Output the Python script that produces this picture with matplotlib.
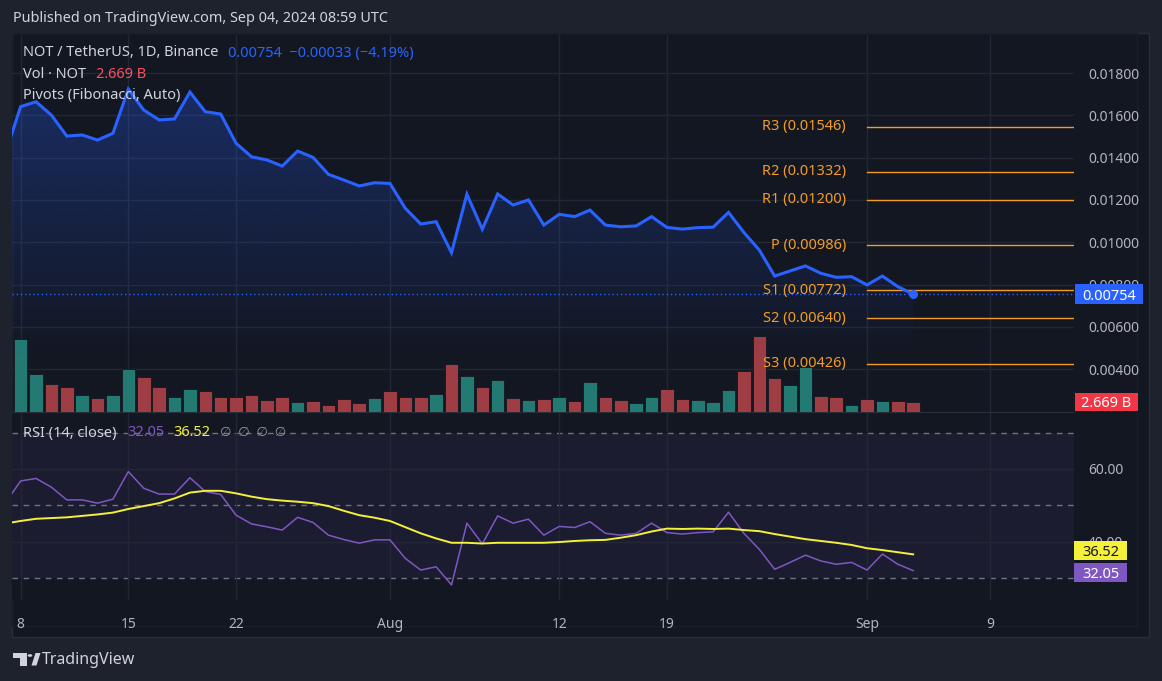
import numpy as np
import pandas as pd
import matplotlib
matplotlib.use('Agg')
import matplotlib.pyplot as plt
import matplotlib.dates as mdates
import matplotlib.transforms as mtransforms
from matplotlib.patches import Rectangle, Polygon, Circle
from matplotlib.colors import to_rgb

plt.rcParams['font.family'] = ['Noto Sans', 'DejaVu Sans']

# daily data, NOT/USDT 1D (Jul 7 .. Sep 4 2024)
dates = pd.date_range('2024-07-07', '2024-09-04', freq='D')

close = [0.01417, 0.01641, 0.01664, 0.01601, 0.01502, 0.01507, 0.01483, 0.01515, 0.01724, 0.01625,
         0.01578, 0.01583, 0.01710, 0.01617, 0.01606, 0.01468, 0.01404, 0.01389, 0.01360, 0.01431,
         0.01401, 0.01321, 0.01294, 0.01266, 0.01281, 0.01278, 0.01160, 0.01086, 0.01097, 0.00950,
         0.01227, 0.01061, 0.01228, 0.01176, 0.01200, 0.01081, 0.01132, 0.01121, 0.01152, 0.01081,
         0.01073, 0.01077, 0.01121, 0.01070, 0.01062, 0.01069, 0.01071, 0.01141, 0.01046, 0.00963,
         0.00840, 0.00864, 0.00888, 0.00853, 0.00834, 0.00837, 0.00798, 0.00840, 0.00790, 0.00754]

# volume in billions
volume = [8.0, 19.5, 10.1, 7.5, 6.75, 4.5, 3.8, 4.5, 11.5, 9.4,
          6.75, 4.1, 6.2, 5.6, 4.1, 4.1, 4.5, 3.2, 4.1, 2.7,
          2.9, 1.9, 3.5, 2.5, 3.8, 5.7, 4.1, 4.1, 4.8, 12.8,
          9.6, 6.75, 8.5, 3.8, 3.2, 3.55, 4.1, 3.0, 8.1, 4.1,
          3.2, 2.5, 4.1, 6.2, 3.55, 3.2, 2.75, 5.9, 11.0, 20.3,
          9.0, 7.2, 12.1, 4.3, 4.1, 1.9, 3.5, 2.9, 2.9, 2.669]

rsi = [50.6, 56.7, 57.4, 55.0, 51.5, 51.5, 50.6, 51.7, 59.3, 54.7,
       53.1, 53.1, 57.6, 53.8, 53.0, 47.3, 44.9, 44.1, 43.2, 46.7,
       45.3, 41.8, 40.6, 39.6, 40.5, 40.5, 35.4, 32.2, 33.1, 28.1,
       45.1, 39.4, 47.1, 45.1, 46.2, 41.8, 44.2, 43.9, 45.5, 42.3,
       41.8, 42.3, 45.1, 42.5, 42.1, 42.5, 42.7, 48.1, 42.3, 37.9,
       32.4, 34.3, 36.3, 34.7, 33.8, 34.3, 32.2, 36.6, 33.8, 32.05]

rsi_ma = [45.0, 45.7, 46.3, 46.5, 46.7, 47.1, 47.5, 48.0, 49.0, 49.8,
          50.6, 51.9, 53.5, 54.0, 54.0, 53.3, 52.4, 51.7, 51.3, 51.0,
          50.6, 49.8, 48.5, 47.3, 46.6, 45.7, 44.0, 42.3, 40.9, 39.7,
          39.7, 39.5, 39.7, 39.7, 39.7, 39.7, 39.9, 40.2, 40.4, 40.5,
          41.1, 41.8, 42.8, 43.6, 43.5, 43.6, 43.5, 43.6, 43.2, 42.9,
          42.1, 41.4, 40.7, 40.2, 39.7, 39.1, 38.2, 37.7, 37.1, 36.52]

pivot_names = ['R3', 'R2', 'R1', 'P', 'S1', 'S2', 'S3']
pivot_values = [0.01546, 0.01332, 0.01200, 0.00986, 0.00772, 0.00640, 0.00426]
pivot_start = pd.Timestamp('2024-09-01')

tick_dates = pd.to_datetime(['2024-07-08', '2024-07-15', '2024-07-22', '2024-08-01',
                             '2024-08-12', '2024-08-19', '2024-09-01', '2024-09-09'])
tick_labels = ['8', '15', '22', 'Aug', '12', '19', 'Sep', '9']
price_ticks = [0.004, 0.006, 0.008, 0.010, 0.012, 0.014, 0.016, 0.018]
rsi_ticks = [40, 60]

W, H = 1162, 681
BG = '#131722'
FRAME = '#1e222d'
GRID = '#232735'
TXT = '#d1d4dc'
AXT = '#b2b5be'
BLUE = '#2962ff'
ORANGE = '#f39c25'
PURPLE = '#7e57c2'
YELLOW = '#f5f03a'


def fr(x0, y0, x1, y1):
    # pixel box (top-left origin) -> figure fraction rect
    return [x0 / W, 1 - y1 / H, (x1 - x0) / W, (y1 - y0) / H]


fig = plt.figure(figsize=(W / 100, H / 100), dpi=100, facecolor=FRAME)

fig.add_artist(Rectangle((12 / W, 1 - 637 / H), 1137 / W, 604 / H, transform=fig.transFigure,
                         facecolor=BG, edgecolor='#2a2e39', lw=1, zorder=-2))
fig.add_artist(Rectangle((12 / W, 1 - 626 / H), 1125 / W, 593 / H, transform=fig.transFigure,
                         facecolor='none', edgecolor='#1a1e29', lw=1, zorder=-1))

xs = mdates.date2num(dates)
x0 = mdates.date2num(pd.Timestamp('2024-07-08')) - 0.56
x1 = mdates.date2num(pd.Timestamp('2024-07-08')) + 68.45
ylo, yhi = 0.001972, 0.019797

# ---- volume (behind price) ----
ax_v = fig.add_axes(fr(12, 35, 1074, 412))
ax_v.set_zorder(1)
ax_v.patch.set_visible(False)
up = [True] + [close[i] >= close[i - 1] for i in range(1, len(close))]
vcol = ['#237a72' if u else '#9e3d44' for u in up]
ax_v.bar(xs, volume, width=0.88, color=vcol, edgecolor=BG, lw=0.6, zorder=2)
ax_v.set_ylim(0, 100.6)
ax_v.set_xlim(x0, x1)
ax_v.set_xticks(mdates.date2num(tick_dates))
ax_v.set_yticks([])
ax_v.tick_params(length=0, labelbottom=False, labelleft=False)
ax_v.grid(axis='x', color=GRID, lw=1, zorder=0)
for s in ax_v.spines.values():
    s.set_visible(False)

# ---- price ----
ax_p = fig.add_axes(fr(12, 35, 1074, 412))
ax_p.set_zorder(2)
ax_p.patch.set_visible(False)
ax_p.set_xlim(x0, x1)
ax_p.set_ylim(ylo, yhi)

# horizontal price grid drawn in the volume axes so it stays behind the bars
tr_grid = mtransforms.blended_transform_factory(ax_v.transAxes, ax_p.transData)
for v in price_ticks:
    ax_v.plot([0, 1], [v, v], color=GRID, lw=1, transform=tr_grid, zorder=0)

verts = [(xs[0], ylo)] + list(zip(xs, close)) + [(xs[-1], ylo)]
clip = Polygon(verts, closed=True, facecolor='none', edgecolor='none', transform=ax_p.transData)
ax_p.add_patch(clip)
grad = np.zeros((256, 1, 4))
grad[..., :3] = to_rgb(BLUE)
grad[..., 3] = np.linspace(0.30, 0.0, 256).reshape(-1, 1)
im = ax_p.imshow(grad, extent=[xs[0], xs[-1], 0.0045, 0.0175], aspect='auto',
                 origin='upper', zorder=1, interpolation='bilinear')
im.set_clip_path(clip)

ax_p.plot(xs, close, color=BLUE, lw=2.2, zorder=4, solid_joinstyle='miter')
ax_p.plot(xs[-1], close[-1], 'o', ms=5.5, color=BLUE, zorder=5)
ax_p.axhline(close[-1], color=BLUE, lw=1, ls=(0, (1, 2)), zorder=3)

ps = mdates.date2num(pivot_start)
for name, v in zip(pivot_names, pivot_values):
    ax_p.plot([ps, x1], [v, v], color=ORANGE, lw=1, zorder=3)
    ax_p.annotate('%s (%.5f)' % (name, v), (ps, v), xytext=(-21, 0), textcoords='offset pixels',
                  ha='right', va='center', color=ORANGE, fontsize=10.5, zorder=6)

ax_p.set_xlim(x0, x1)
ax_p.set_ylim(ylo, yhi)
ax_p.yaxis.tick_right()
ax_p.set_yticks(price_ticks)
ax_p.set_yticklabels(['%.5f' % v for v in price_ticks])
ax_p.set_xticks([])
ax_p.tick_params(axis='y', length=0, pad=10, labelcolor=AXT, labelsize=10)
for s in ax_p.spines.values():
    s.set_visible(False)

# ---- RSI ----
ax_r = fig.add_axes(fr(12, 412, 1074, 600))
ax_r.set_facecolor(BG)
ax_r.axhspan(30, 70, color=PURPLE, alpha=0.09, lw=0, zorder=0)
for v in rsi_ticks:
    ax_r.axhline(v, color=GRID, lw=1, zorder=1)
for v in [70, 50, 30]:
    ax_r.axhline(v, color='#6f7380', lw=1, ls=(0, (4, 4)), zorder=1)
ax_r.plot(xs, rsi, color=PURPLE, lw=1.1, zorder=3)
ax_r.plot(xs, rsi_ma, color=YELLOW, lw=1.4, zorder=4)
ax_r.set_xlim(x0, x1)
ax_r.set_ylim(23.96, 75.68)
ax_r.yaxis.tick_right()
ax_r.set_yticks(rsi_ticks)
ax_r.set_yticklabels(['%.2f' % v for v in rsi_ticks])
ax_r.set_xticks(mdates.date2num(tick_dates))
ax_r.set_xticklabels(tick_labels)
for lab in ax_r.get_xticklabels():
    if lab.get_text() in ('Aug', 'Sep'):
        lab.set_fontweight('bold')
ax_r.grid(axis='x', color=GRID, lw=1, zorder=0)
ax_r.tick_params(axis='y', length=0, pad=10, labelcolor=AXT, labelsize=10)
ax_r.tick_params(axis='x', length=0, pad=12, labelcolor=AXT, labelsize=10)
for s in ax_r.spines.values():
    s.set_visible(False)
ax_r.spines['top'].set_visible(True)
ax_r.spines['top'].set_color('#2a2e39')


# value tags on the right scale: box in pixels, centred on the value
def tag(ax, value, text, fc, tc, px0, px1, h, dy=0, bold=False):
    py = ax.transData.transform((x0, value))[1] + dy
    fig.add_artist(Rectangle((px0 / W, (py - h / 2) / H), (px1 - px0) / W, h / H,
                             transform=fig.transFigure, fc=fc, ec='none', zorder=10))
    fig.text((px0 + px1) / 2 / W, py / H, text, ha='center', va='center_baseline', color=tc,
             fontsize=10.5, fontweight='bold' if bold else 'normal', zorder=11)


tag(ax_p, close[-1], '%.5f' % close[-1], BLUE, 'white', 1075, 1143, 20, bold=True)
tag(ax_v, volume[-1], '2.669 B', '#f23645', 'white', 1075, 1138, 18)
tag(ax_r, rsi_ma[-1], '%.2f' % rsi_ma[-1], YELLOW, '#131722', 1074, 1127, 19, dy=4)
tag(ax_r, rsi[-1], '%.2f' % rsi[-1], PURPLE, 'white', 1074, 1127, 19, dy=-1.5)


# ---- header and legends ----
def ftext(px, py, s, **kw):
    kw.setdefault('color', TXT)
    kw.setdefault('fontsize', 10.5)
    fig.text(px / W, 1 - py / H, s, ha='left', va='center', **kw)


ftext(13, 19, 'Published on TradingView.com, Sep 04, 2024 08:59 UTC', fontsize=10.4)
ftext(23, 53, 'NOT / TetherUS, 1D, Binance')
ftext(228, 53, '0.00754  \u22120.00033 (\u22124.19%)', color=BLUE)
ftext(23, 74, 'Vol \u00b7 NOT')
ftext(96, 74, '2.669 B', color='#f7525f')
ftext(23, 95, 'Pivots (Fibonacci, Auto)')
ftext(23, 433, 'RSI (14, close)')
ftext(127, 433, '32.05', color=PURPLE)
ftext(173, 433, '36.52', color=YELLOW)
ftext(220, 433, '\u2205  \u2205  \u2205  \u2205', color='#9598a1', fontsize=9.5)


# TradingView logo
def fpoly(pts, **kw):
    fig.add_artist(Polygon([(x / W, 1 - y / H) for x, y in pts], closed=True,
                           transform=fig.transFigure, **kw))


fpoly([(13, 653), (26.5, 653), (26.5, 665.5), (19.5, 665.5), (19.5, 657.5), (13, 657.5)], fc=TXT, ec='none')
fig.add_artist(Circle((30 / W, 1 - 655.5 / H), 2.3 / W, transform=fig.transFigure, fc=TXT, ec='none'))
fpoly([(31.5, 665.5), (36.5, 665.5), (40.5, 653), (35.5, 653)], fc=TXT, ec='none')
ftext(42, 660, 'TradingView', fontsize=11.5)

fig.savefig('out.png', dpi=100, facecolor=FRAME)
